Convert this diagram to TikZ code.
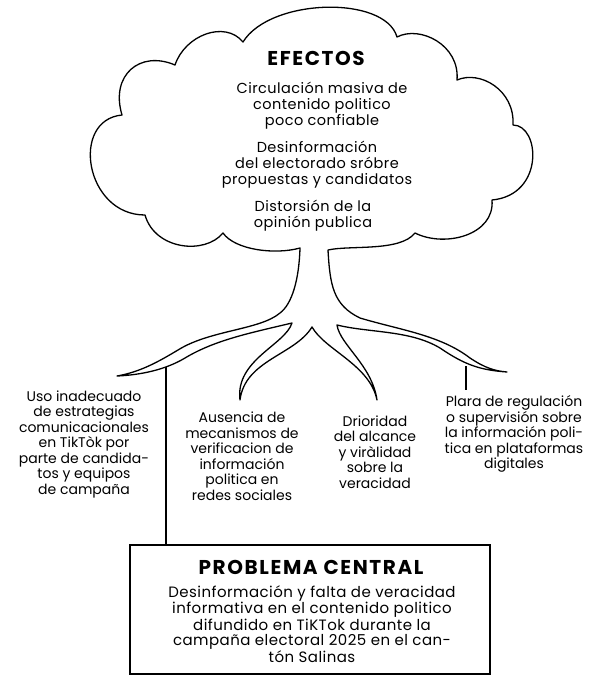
\documentclass[tikz,border=0pt]{standalone}
\usepackage{fontspec}
\setmainfont{Poppins}
\newfontfamily\ancha{Poppins}[LetterSpace=3]
\newfontfamily\titular{Poppins}[LetterSpace=8]
\usetikzlibrary{positioning,calc}

\begin{document}
\begin{tikzpicture}[x=1pt,y=-1pt,
	arbol/.style={line width=1.3pt,line join=round},
	linea/.style={line width=1.3pt},
	marco/.style={draw,line width=1.7pt,minimum width=360pt,minimum height=129pt},
	texto/.style={align=center,inner sep=0pt,font=\ancha\fontsize{14.5}{16}\selectfont},
	textoraiz/.style={align=center,inner sep=0pt,font=\fontsize{14}{15.5}\selectfont},
	textocaja/.style={align=center,inner sep=0pt,font=\ancha\fontsize{15}{15.3}\selectfont},
	titulo/.style={inner sep=0pt,font=\titular\bfseries\fontsize{20}{22}\selectfont}]
	\useasboundingbox (0,0) rectangle (599,675);

	\draw[arbol] (300,248)
		.. controls (275,255) and (235,250) .. (223,233)
		.. controls (205,255) and (155,250) .. (145,215)
		.. controls (85,215) and (70,120) .. (122,115)
		.. controls (110,75) and (140,50) .. (175,65)
		.. controls (185,35) and (225,20) .. (243,42)
		.. controls (270,-2) and (385,-5) .. (397,37)
		.. controls (420,25) and (460,45) .. (457,80)
		.. controls (480,70) and (515,90) .. (513,125)
		.. controls (540,125) and (545,195) .. (492,200)
		.. controls (495,235) and (445,248) .. (415,233)
		.. controls (400,252) and (350,245) .. (328,250)
		.. controls (330,285) and (333,305) .. (360,318)
		.. controls (400,330) and (440,335) .. (470,358)
		.. controls (485,368) and (495,371) .. (507,372)
		.. controls (480,370) and (465,365) .. (440,348)
		.. controls (410,330) and (370,333) .. (337,325)
		.. controls (340,345) and (372,365) .. (377,400)
		.. controls (370,365) and (325,350) .. (312,327)
		.. controls (295,355) and (245,360) .. (240,400)
		.. controls (235,360) and (285,345) .. (292,323)
		.. controls (250,333) and (215,340) .. (185,358)
		.. controls (165,370) and (140,375) .. (117,376)
		.. controls (140,372) and (158,362) .. (178,350)
		.. controls (210,330) and (260,330) .. (280,313)
		.. controls (292,304) and (299,280) .. (300,248) -- cycle;

	\node[titulo] (efectos) at (316,58) {EFECTOS};
	\node[texto] (efecto1) at (322,106) {Circulación masiva de\\contenido politico\\poco confiable};
	\node[texto] (efecto2) at (317,165) {Desinformación\\del electorado sróbre\\propuestas y candidatos};
	\node[texto] (efecto3) at (313,216) {Distorsión de la\\opinión publica};

	\node[textoraiz] (causa1) at (84,444) {Uso inadecuado\\de estrategias\\comunicacionales\\en TikTòk por\\parte de candida-\\tos y equipos\\de campaña};
	\node[textoraiz] (causa2) at (242,456) {Ausencia de\\mecanismos de\\verificacion de\\información\\politica en\\redes sociales};
	\node[textoraiz] (causa3) at (375,452) {Drioridad\\del alcance\\y viràlidad\\sobre la\\veracidad};
	\node[textoraiz] (causa4) at (514,434) {Plara de regulación\\o supervisión sobre\\la información poli-\\tica en plataformas\\digitales};

	\node[marco] (problema) at (310,609.5) {};
	\node[titulo] (central) at (311,567) {PROBLEMA CENTRAL};
	\node[textocaja] (desc) at (312,624) {Desinformación y falta de veracidad\\informativa en el contenido politico\\difundido en TiKTok durante la\\campaña electoral 2025 en el can-\\tón Salinas};

	\coordinate (raizI) at (166,367);
	\coordinate (raizD) at (466,366);
	\draw[linea] (raizI) -- (raizI |- problema.north);
	\draw[linea] (raizD) -- ($(raizD |- causa4.north)+(0,-5)$);
\end{tikzpicture}
\end{document}
